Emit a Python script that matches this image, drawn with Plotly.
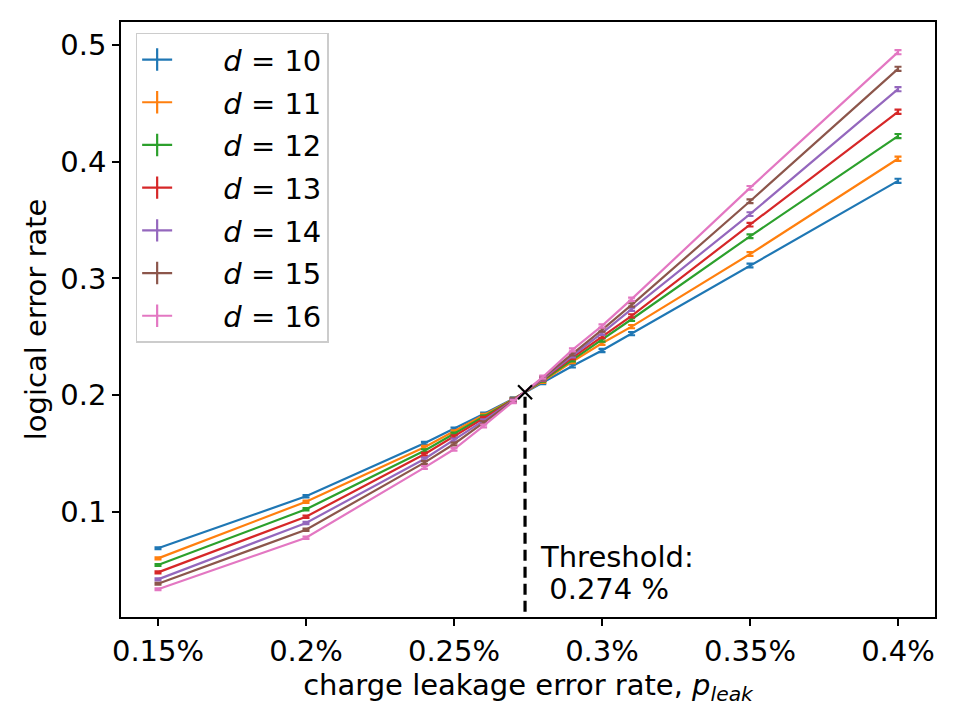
import plotly.graph_objects as go

# ---- data (leakage rate in %) ----
p_leak = [0.15, 0.20, 0.24, 0.25, 0.26, 0.27, 0.28, 0.29, 0.30, 0.31, 0.35, 0.40]

distances = [10, 11, 12, 13, 14, 15, 16]
d10 = [0.0689, 0.1134, 0.1588, 0.1711, 0.1839, 0.1968, 0.2108, 0.2250, 0.2382, 0.2527, 0.3111, 0.3835]
d11 = [0.0603, 0.1088, 0.1554, 0.1688, 0.1828, 0.1965, 0.2118, 0.2287, 0.2445, 0.2587, 0.3208, 0.4024]
d12 = [0.0546, 0.1023, 0.1525, 0.1668, 0.1816, 0.1962, 0.2128, 0.2302, 0.2473, 0.2650, 0.3360, 0.4218]
d13 = [0.0483, 0.0960, 0.1494, 0.1645, 0.1802, 0.1958, 0.2135, 0.2322, 0.2502, 0.2679, 0.3460, 0.4426]
d14 = [0.0423, 0.0906, 0.1454, 0.1617, 0.1782, 0.1955, 0.2140, 0.2336, 0.2531, 0.2736, 0.3550, 0.4620]
d15 = [0.0386, 0.0848, 0.1423, 0.1582, 0.1765, 0.1950, 0.2148, 0.2353, 0.2559, 0.2773, 0.3660, 0.4794]
d16 = [0.0338, 0.0780, 0.1380, 0.1537, 0.1737, 0.1945, 0.2155, 0.2388, 0.2593, 0.2822, 0.3775, 0.4937]
series = [d10, d11, d12, d13, d14, d15, d16]

err = [0.0008, 0.0010, 0.0012, 0.0012, 0.0012, 0.0013, 0.0013, 0.0013, 0.0014, 0.0014, 0.0016, 0.0018]

threshold_x = 0.274
threshold_y = 0.2025

x_tickvals = [0.15, 0.20, 0.25, 0.30, 0.35, 0.40]
x_ticktext = ["0.15%", "0.2%", "0.25%", "0.3%", "0.35%", "0.4%"]
y_tickvals = [0.1, 0.2, 0.3, 0.4, 0.5]
y_ticktext = ["0.1", "0.2", "0.3", "0.4", "0.5"]

colors = ["#1f77b4", "#ff7f0e", "#2ca02c", "#d62728", "#9467bd", "#8c564b", "#e377c2"]

FONT = "DejaVu Sans"
FS = 29
PAD = "\u00a0" * 5

fig = go.Figure()

for d, ys, c in zip(distances, series, colors):
    fig.add_trace(go.Scatter(
        x=p_leak, y=ys, mode="lines",
        line=dict(color=c, width=2.2),
        error_y=dict(type="data", array=err, visible=True, color=c, thickness=2.2, width=3.5),
        showlegend=False,
    ))
    # legend entry
    fig.add_trace(go.Scatter(
        x=[None], y=[None], mode="lines+markers",
        line=dict(color=c, width=2.2),
        marker=dict(symbol="line-ns-open", size=16, color=c, line=dict(color=c, width=2.2)),
        name=f"{PAD}<i>d</i> = {d}",
        legendgroup=str(d),
    ))

# threshold line and marker
fig.add_trace(go.Scatter(
    x=[threshold_x, threshold_x], y=[0, threshold_y], mode="lines",
    line=dict(color="black", width=3.2, dash="11px,6px"), showlegend=False,
))
fig.add_trace(go.Scatter(
    x=[threshold_x], y=[threshold_y], mode="markers",
    marker=dict(symbol="x-thin-open", size=14, color="black", line=dict(color="black", width=2.2)),
    showlegend=False,
))

fig.add_annotation(
    x=threshold_x + 0.0045, y=0.0611, xref="x", yref="y",
    xanchor="left", yanchor="middle", align="left", showarrow=False,
    text="Threshold:",
    font=dict(family=FONT, size=FS, color="black"),
)
fig.add_annotation(
    x=threshold_x + 0.0045, y=0.0344, xref="x", yref="y",
    xanchor="left", yanchor="middle", align="left", showarrow=False,
    text="\u00a0" + f"{threshold_x:.3f} %",
    font=dict(family=FONT, size=FS, color="black"),
)

fig.update_layout(
    width=960, height=720,
    margin=dict(l=121, r=25, t=22, b=103),
    paper_bgcolor="white", plot_bgcolor="white",
    font=dict(family=FONT, size=FS, color="black"),
    legend=dict(
        x=0.018, y=0.982, xanchor="left", yanchor="top",
        bgcolor="rgba(255,255,255,0.8)", bordercolor="#cccccc", borderwidth=1.5,
        font=dict(family=FONT, size=FS, color="black"),
        tracegroupgap=2,
    ),
    xaxis=dict(
        range=[0.1375, 0.4125], tickvals=x_tickvals, ticktext=x_ticktext,
        showgrid=False, zeroline=False, showline=True, mirror=True,
        linecolor="black", linewidth=1.7, ticks="outside", ticklen=7, tickwidth=1.7,
        tickcolor="black", tickfont=dict(family=FONT, size=FS),
        title=dict(text="charge leakage error rate, <i>p</i><sub><i>leak</i></sub>",
                   font=dict(family=FONT, size=FS), standoff=6),
    ),
    yaxis=dict(
        range=[0.0101, 0.5195], tickvals=y_tickvals, ticktext=y_ticktext,
        showgrid=False, zeroline=False, showline=True, mirror=True,
        linecolor="black", linewidth=1.7, ticks="outside", ticklen=7, tickwidth=1.7,
        tickcolor="black", tickfont=dict(family=FONT, size=FS),
        title=dict(text="logical error rate", font=dict(family=FONT, size=FS), standoff=5),
    ),
)

fig.write_html("out.html")
